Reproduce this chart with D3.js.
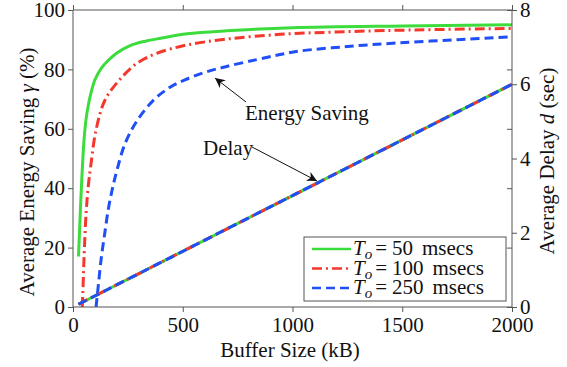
<!DOCTYPE html>
<html>
<head>
<meta charset="utf-8">
<script src="https://cdn.jsdelivr.net/npm/d3@7"></script>
<style>
  svg text, svg tspan { font-family: "Liberation Serif", "Times New Roman", serif !important; }
</style>
</head>
<body style="margin:0">
<script>
// Energy saving (%) per buffer size (kB)
const green50 = [[25,17],[30,26],[35,35],[40,43],[45,50],[50,56],[60,63.5],[70,68],[80,71.5],[100,76.5],[130,80.5],[160,83],[200,85.5],[260,88],[330,89.5],[400,90.5],[520,92],[700,93],[1000,94],[1500,94.6],[2000,95]];
const red100 = [[42,0],[45,5],[50,16],[60,32],[70,41],[80,47],[105,59.6],[146,69.7],[211,76.4],[290,82],[381,85.4],[518,88.2],[700,90.2],[943,91.8],[1200,92.6],[1500,93.2],[2000,93.8]];
const blue250 = [[105,0],[115,7],[128,16],[145,25],[161,33],[180,40],[200,46],[237,55],[290,62.5],[365,69.5],[442,74],[510,76.5],[600,79],[700,81],[837,83.3],[943,85],[1034,86.2],[1250,87.7],[1476,88.9],[1750,90],[2000,91]];

// Average delay (sec) per buffer size, same for all three T_o
const delay50 = [[25,0.075],[500,1.5],[1000,3.0],[1500,4.5],[2000,6.0]];
const delay100 = [[25,0.075],[500,1.5],[1000,3.0],[1500,4.5],[2000,6.0]];
const delay250 = [[25,0.075],[500,1.5],[1000,3.0],[1500,4.5],[2000,6.0]];

const xTicks = [0, 500, 1000, 1500, 2000];
const yLeftTicks = [0, 20, 40, 60, 80, 100];
const yRightTicks = [0, 2, 4, 6, 8];
const legendLabels = ["50", "100", "250"];

const W = 567, H = 367;
const margin = { top: 10, right: 55, bottom: 60, left: 73 };
const FONT = "serif";

const svg = d3.select("body").append("svg")
  .attr("width", W)
  .attr("height", H)
  .style("font-family", "serif");

const x = d3.scaleLinear().domain([0, 2000]).range([margin.left, W - margin.right]);
const yL = d3.scaleLinear().domain([0, 100]).range([H - margin.bottom, margin.top]);
const yR = d3.scaleLinear().domain([0, 8]).range([H - margin.bottom, margin.top]);

const colors = ["#3ddc3d", "#f5382c", "#1f4ff5"];
const dashes = [null, "10,4,2,4", "9,5"];

const defs = svg.append("defs");
defs.append("marker")
  .attr("id", "arrow")
  .attr("viewBox", "0 0 10 10")
  .attr("refX", 10).attr("refY", 5)
  .attr("markerWidth", 10).attr("markerHeight", 10)
  .attr("markerUnits", "userSpaceOnUse")
  .attr("orient", "auto")
  .append("path")
  .attr("d", "M0,0 L10,5 L0,10 L3,5 z")
  .attr("fill", "#111");

defs.append("clipPath").attr("id", "plotclip")
  .append("rect")
  .attr("x", margin.left).attr("y", margin.top)
  .attr("width", W - margin.left - margin.right)
  .attr("height", H - margin.top - margin.bottom);

const plot = svg.append("g").attr("clip-path", "url(#plotclip)");

const lineL = d3.line().x(d => x(d[0])).y(d => yL(d[1])).curve(d3.curveCatmullRom.alpha(0.5));
const lineR = d3.line().x(d => x(d[0])).y(d => yR(d[1]));

const energy = [green50, red100, blue250];
const delays = [delay50, delay100, delay250];

energy.forEach((s, i) => {
  plot.append("path")
    .datum(s)
    .attr("d", lineL)
    .attr("fill", "none")
    .attr("stroke", colors[i])
    .attr("stroke-width", 3)
    .attr("stroke-dasharray", dashes[i]);
});

delays.forEach((s, i) => {
  plot.append("path")
    .datum(s)
    .attr("d", lineR)
    .attr("fill", "none")
    .attr("stroke", colors[i])
    .attr("stroke-width", 3)
    .attr("stroke-dasharray", dashes[i]);
});

// axes
const fmt = d3.format("d");
const gx = svg.append("g")
  .attr("transform", `translate(0,${H - margin.bottom})`)
  .call(d3.axisBottom(x).tickValues(xTicks).tickFormat(fmt).tickSize(5).tickPadding(5));
const gxTop = svg.append("g")
  .attr("transform", `translate(0,${margin.top})`)
  .call(d3.axisTop(x).tickValues(xTicks).tickSize(5).tickFormat(""));
const gyL = svg.append("g")
  .attr("transform", `translate(${margin.left},0)`)
  .call(d3.axisLeft(yL).tickValues(yLeftTicks).tickSize(5).tickPadding(3));
const gyMirror = svg.append("g")
  .attr("transform", `translate(${W - margin.right},0)`)
  .call(d3.axisLeft(yL).tickValues(yLeftTicks).tickSize(5).tickFormat(""));
const gyR = svg.append("g")
  .attr("transform", `translate(${W - margin.right},0)`)
  .call(d3.axisRight(yR).tickValues(yRightTicks).tickSize(5).tickPadding(3));

[gx, gxTop, gyL, gyMirror, gyR].forEach(g => {
  g.attr("font-family", FONT).attr("font-size", 21);
  g.select(".domain").attr("stroke", "#555").attr("stroke-width", 1);
  g.selectAll(".tick line").attr("stroke", "#555");
  g.selectAll("text")
    .attr("font-family", FONT)
    .attr("font-size", 21)
    .attr("fill", "#111");
});
gyMirror.select(".domain").remove();
gyR.select(".domain").attr("d", `M0,${margin.top}V${H - margin.bottom}`);
gx.select(".domain").attr("d", `M${margin.left},0H${W - margin.right}`);
gxTop.select(".domain").attr("d", `M${margin.left},0H${W - margin.right}`);
gyL.select(".domain").attr("d", `M0,${margin.top}V${H - margin.bottom}`);

// text with the serif font set on the element itself
function label(parent, xp, yp, size) {
  return parent.append("text")
    .attr("x", xp).attr("y", yp)
    .attr("font-family", FONT)
    .attr("font-size", size)
    .attr("fill", "#111");
}

// axis labels
label(svg, 290, 357, 21)
  .attr("text-anchor", "middle")
  .text("Buffer Size (kB)");

const yl = label(svg, 0, 0, 21)
  .attr("transform", `translate(34,172) rotate(-90)`)
  .attr("text-anchor", "middle");
yl.append("tspan").text("Average Energy Saving ");
yl.append("tspan").attr("font-style", "italic").text("γ");
yl.append("tspan").text(" (%)");

const yr = label(svg, 0, 0, 21)
  .attr("transform", `translate(554,161) rotate(-90)`)
  .attr("text-anchor", "middle");
yr.append("tspan").text("Average Delay ");
yr.append("tspan").attr("font-style", "italic").text("d");
yr.append("tspan").text(" (sec)");

// annotations
label(svg, 245, 120, 21).text("Energy Saving");
svg.append("line")
  .attr("x1", 246).attr("y1", 102)
  .attr("x2", 215).attr("y2", 78)
  .attr("stroke", "#111").attr("stroke-width", 1)
  .attr("marker-end", "url(#arrow)");

label(svg, 203, 155, 21).text("Delay");
svg.append("line")
  .attr("x1", 252).attr("y1", 147)
  .attr("x2", 317).attr("y2", 181)
  .attr("stroke", "#111").attr("stroke-width", 1)
  .attr("marker-end", "url(#arrow)");

// legend
const lg = svg.append("g");
lg.append("rect")
  .attr("x", 304).attr("y", 237)
  .attr("width", 202).attr("height", 64)
  .attr("fill", "#fff")
  .attr("stroke", "#555").attr("stroke-width", 1);

legendLabels.forEach((lab, i) => {
  const cy = 249 + i * 19.5;
  lg.append("line")
    .attr("x1", 312).attr("x2", 351)
    .attr("y1", cy).attr("y2", cy)
    .attr("stroke", colors[i])
    .attr("stroke-width", 2.5)
    .attr("stroke-dasharray", dashes[i]);
  const t = label(lg, 353, cy + 6, 21);
  t.append("tspan").attr("font-style", "italic").text("T");
  t.append("tspan").attr("font-style", "italic").attr("font-size", 15).attr("dy", 4).text("o");
  t.append("tspan").attr("dy", -4).attr("dx", 3).text("=");
  t.append("tspan").attr("dx", 5).text(lab);
  t.append("tspan").attr("dx", 9).text("msecs");
});
</script>
</body>
</html>
